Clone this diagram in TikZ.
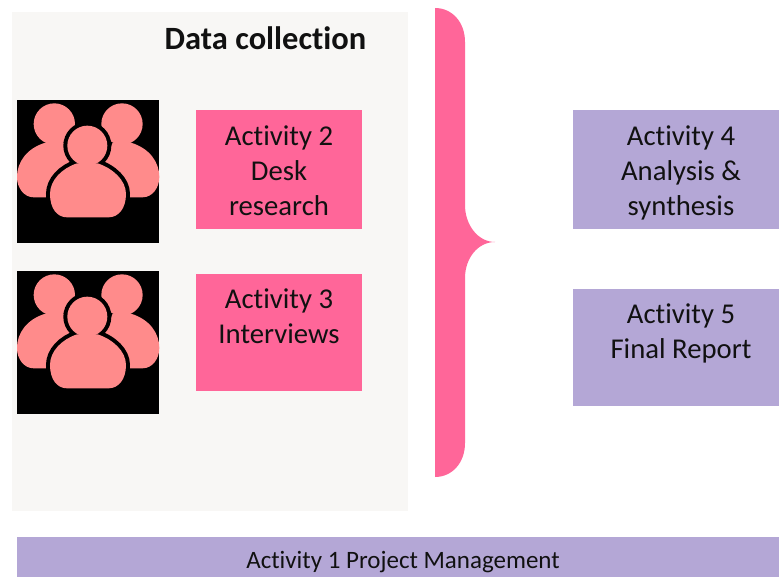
\documentclass[tikz,border=0pt]{standalone}
\usepackage{fontspec}
\setmainfont[Ligatures=NoCommon]{Carlito}
\definecolor{panelc}{HTML}{F8F7F5}
\definecolor{pinkc}{HTML}{FF6699}
\definecolor{lavc}{HTML}{B4A7D6}
\definecolor{salmonc}{HTML}{FF8B8B}
\definecolor{textc}{HTML}{111111}
\newcommand{\bodypath}{(99,282) .. controls (99,240) and (135,205) .. (180,190) -- (242,190) .. controls (287,205) and (327,240) .. (327,282) .. controls (327,325) and (305,352) .. (275,352) -- (150,352) .. controls (120,352) and (99,325) .. (99,282) -- cycle}
\tikzset{
  boxbase/.style={draw=none,inner sep=0pt},
  pinkbox/.style={boxbase,fill=pinkc},
  lavbox/.style={boxbase,fill=lavc},
  boxtext/.style={inner sep=0pt,align=center,text=textc,font=\fontsize{28.7}{35}\selectfont},
  persona/.style={fill=salmonc},
  pics/people/.style={code={
    \fill[black] (0,0) rectangle (427,430);
    \fill[persona] (112,72) circle (62);
    \fill[persona] (0,232) .. controls (0,185) and (30,145) .. (85,128) -- (140,128) -- (210,292) -- (50,292) .. controls (20,292) and (0,262) .. (0,232) -- cycle;
    \fill[persona] (315,72) circle (62);
    \fill[persona] (427,232) .. controls (427,185) and (397,145) .. (342,128) -- (287,128) -- (217,292) -- (377,292) .. controls (407,292) and (427,262) .. (427,232) -- cycle;
    \draw[black,line width=8pt] (211,137) circle (60);
    \draw[black,line width=8pt] \bodypath;
    \fill[persona] (211,137) circle (60);
    \fill[persona] \bodypath;
  }}
}
\begin{document}
\begin{tikzpicture}[x=1pt,y=-1pt]
\useasboundingbox (0,0) rectangle (779,577);
\clip (0,0) rectangle (779,577);
\fill[white] (0,0) rectangle (779,577);
\node[fill=panelc,inner sep=0pt,minimum width=396pt,minimum height=499pt] (panel) at (210,261.5) {};
\node[inner sep=0pt,font=\fontsize{32.5}{35}\selectfont\bfseries,text=textc] (title) at (265.5,38) {Data collection};
\node[pinkbox,minimum width=166pt,minimum height=119pt] (a2) at (279,169.5) {};
\node[boxtext] (a2t) at (279,170.5) {Activity 2\\Desk\\research};
\node[pinkbox,minimum width=166pt,minimum height=117pt] (a3) at (279,332.5) {};
\node[boxtext] (a3t) at (279,316.5) {Activity 3\\Interviews};
\node[lavbox,minimum width=216pt,minimum height=119pt] (a4) at (681,169.5) {};
\node[boxtext] (a4t) at (681,172.5) {Activity 4\\Analysis \&\\synthesis};
\node[lavbox,minimum width=216pt,minimum height=117pt] (a5) at (681,347.5) {};
\node[boxtext] (a5t) at (681,333.5) {Activity 5\\Final Report};
\node[lavbox,minimum width=772pt,minimum height=40pt] (a1) at (403,557) {};
\node[boxtext,font=\fontsize{25}{26}\selectfont] (a1t) at (403,562) {Activity 1 Project Management};
\begin{scope}[shift={(17,100)},x=0.3333pt,y=-0.3333pt]
\pic (p1) at (0,0) {people};
\end{scope}
\begin{scope}[shift={(17,271)},x=0.3333pt,y=-0.3333pt]
\pic (p2) at (0,0) {people};
\end{scope}
\fill[pinkc] (435,8) .. controls (452,8) and (465,22) .. (465,42)
  -- (465,205) .. controls (465,225) and (478,242) .. (495,242)
  .. controls (478,242) and (465,258) .. (465,278)
  -- (465,443) .. controls (465,463) and (452,477) .. (435,477) -- cycle;
\end{tikzpicture}
\end{document}
